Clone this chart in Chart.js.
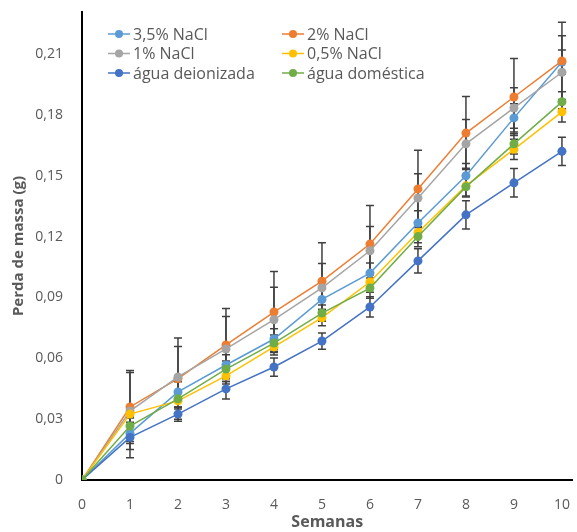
<!DOCTYPE html>
<html>
<head>
<meta charset="utf-8">
<script src="https://cdn.jsdelivr.net/npm/chart.js@4.4.1/dist/chart.umd.min.js"></script>
<style>
    body { margin: 0; background: #fff; }
    #wrap { width: 577px; height: 532px; }
</style>
</head>
<body>
<div id="wrap"><canvas id="chart_massa"></canvas></div>
<script>
// Semanas (eixo x)
const semanas = [0, 1, 2, 3, 4, 5, 6, 7, 8, 9, 10]
// Marcas do eixo y
const ticks_y = [0, 0.03, 0.06, 0.09, 0.12, 0.15, 0.18, 0.21]

// Perda de massa (g) por meio
const nacl_35 = [0, 0.023, 0.0434, 0.0567, 0.0695, 0.089, 0.102, 0.1267, 0.150, 0.1785, 0.206]
const nacl_2 = [0, 0.036, 0.050, 0.0666, 0.0828, 0.098, 0.1163, 0.1435, 0.171, 0.1888, 0.2066]
const nacl_1 = [0, 0.034, 0.0508, 0.0646, 0.079, 0.0947, 0.113, 0.139, 0.1657, 0.1834, 0.201]
const nacl_05 = [0, 0.0325, 0.039, 0.0513, 0.0656, 0.080, 0.0976, 0.122, 0.145, 0.163, 0.1815]
const agua_deionizada = [0, 0.021, 0.0325, 0.0449, 0.0557, 0.0685, 0.0853, 0.108, 0.1307, 0.1465, 0.162]
const agua_domestica = [0, 0.0266, 0.040, 0.0547, 0.0675, 0.0823, 0.0946, 0.120, 0.1445, 0.1657, 0.1864]

// Desvio (barras de erro)
const err_nacl_35 = [0, 0.004, 0.005, 0.005, 0.005, 0.005, 0.005, 0.006, 0.006, 0.007, 0.006]
const err_nacl_2 = [0, 0.018, 0.020, 0.018, 0.020, 0.019, 0.019, 0.019, 0.018, 0.019, 0.019]
const err_nacl_1 = [0, 0.019, 0.015, 0.016, 0.016, 0.012, 0.012, 0.012, 0.012, 0.010, 0.018]
const err_nacl_05 = [0, 0.004, 0.004, 0.004, 0.004, 0.004, 0.005, 0.005, 0.005, 0.005, 0.005]
const err_agua_deionizada = [0, 0.010, 0.0035, 0.005, 0.0045, 0.004, 0.005, 0.006, 0.007, 0.007, 0.007]
const err_agua_domestica = [0, 0.004, 0.004, 0.004, 0.004, 0.004, 0.005, 0.005, 0.005, 0.005, 0.005]

const nomes = ['3,5% NaCl', '2% NaCl', '1% NaCl', '0,5% NaCl', 'água deionizada', 'água doméstica']
const cores = ['#5B9BD5', '#ED7D31', '#A5A5A5', '#FFC000', '#4472C4', '#70AD47']

const series = [nacl_35, nacl_2, nacl_1, nacl_05, agua_deionizada, agua_domestica]
const erros = [err_nacl_35, err_nacl_2, err_nacl_1, err_nacl_05, err_agua_deionizada, err_agua_domestica]

const texto = '#595959'
const fonte = '"Open Sans", "DejaVu Sans", sans-serif'

const data_massa = {
    datasets: series.map((vals, i) => ({
        label: nomes[i],
        data: semanas.map((s, j) => ({ x: s, y: vals[j] })),
        erro: erros[i],
        borderColor: cores[i],
        backgroundColor: cores[i],
        borderWidth: 1.5,
        pointRadius: 4.5,
        pointBorderWidth: 0,
        tension: 0,
        order: series.length - i
    }))
}

// barras de erro, desenhadas atrás dos marcadores
const errorBars = {
    id: 'errorBars',
    beforeDatasetsDraw(chart) {
        const ctx = chart.ctx
        const y = chart.scales.y
        ctx.save()
        ctx.strokeStyle = '#404040'
        ctx.lineWidth = 1.5
        chart.data.datasets.forEach((ds, i) => {
            const meta = chart.getDatasetMeta(i)
            meta.data.forEach((pt, j) => {
                const e = ds.erro[j]
                if (!e) return
                const v = ds.data[j].y
                const top = y.getPixelForValue(v + e)
                const bot = y.getPixelForValue(v - e)
                ctx.beginPath()
                ctx.moveTo(pt.x, top)
                ctx.lineTo(pt.x, bot)
                ctx.moveTo(pt.x - 4, top)
                ctx.lineTo(pt.x + 4, top)
                ctx.moveTo(pt.x - 4, bot)
                ctx.lineTo(pt.x + 4, bot)
                ctx.stroke()
            })
        })
        ctx.restore()
    }
}

// legenda em duas colunas dentro da área do gráfico
const legendaInterna = {
    id: 'legendaInterna',
    afterDraw(chart) {
        const ctx = chart.ctx
        const area = chart.chartArea
        const cols = [area.left + 26, area.left + 200]
        const rows = [area.top + 22, area.top + 41.5, area.top + 61]
        ctx.save()
        ctx.font = '16px ' + fonte
        ctx.textBaseline = 'middle'
        chart.data.datasets.forEach((ds, i) => {
            const cx = cols[i % 2]
            const cy = rows[Math.floor(i / 2)]
            ctx.strokeStyle = ds.borderColor
            ctx.lineWidth = 1.5
            ctx.beginPath()
            ctx.moveTo(cx, cy)
            ctx.lineTo(cx + 22, cy)
            ctx.stroke()
            ctx.fillStyle = ds.borderColor
            ctx.beginPath()
            ctx.arc(cx + 11, cy, 4, 0, Math.PI * 2)
            ctx.fill()
            ctx.fillStyle = texto
            ctx.fillText(ds.label, cx + 25, cy + 1)
        })
        ctx.restore()
    }
}

const virgula = v => v === 0 ? '0' : String(+v.toFixed(2)).replace('.', ',')

new Chart(document.getElementById('chart_massa'), {
    type: 'line',
    data: data_massa,
    plugins: [errorBars, legendaInterna],
    options: {
        responsive: true,
        maintainAspectRatio: false,
        animation: false,
        layout: {
            padding: { top: 12, right: 0, left: 0, bottom: 0 }
        },
        plugins: {
            legend: { display: false },
            tooltip: { enabled: false }
        },
        scales: {
            x: {
                type: 'linear',
                min: 0,
                max: 10.22,
                afterBuildTicks: axis => { axis.ticks = semanas.map(v => ({ value: v })) },
                afterFit: axis => {
                    axis.height = 52
                    axis.paddingLeft = 0
                    axis.paddingRight = 0
                },
                ticks: {
                    color: texto,
                    padding: 17,
                    maxRotation: 0,
                    autoSkip: false,
                    font: { family: fonte, size: 14 }
                },
                grid: { display: true, drawOnChartArea: false, drawTicks: false },
                border: { display: true, color: '#000000', width: 2 },
                title: {
                    display: true,
                    text: 'Semanas',
                    color: texto,
                    padding: { top: 0, bottom: 0 },
                    font: { family: fonte, size: 16, weight: 'bold' }
                }
            },
            y: {
                min: 0,
                max: 0.2307,
                afterBuildTicks: axis => { axis.ticks = ticks_y.map(v => ({ value: v })) },
                afterFit: axis => {
                    axis.width = 82
                    axis.paddingTop = 0
                    axis.paddingBottom = 0
                },
                ticks: {
                    color: texto,
                    padding: 19,
                    font: { family: fonte, size: 14 },
                    callback: v => virgula(v)
                },
                grid: { display: true, drawOnChartArea: false, drawTicks: false },
                border: { display: true, color: '#000000', width: 2 },
                title: {
                    display: true,
                    text: 'Perda de massa (g)',
                    color: texto,
                    padding: { top: 10, bottom: 0 },
                    font: { family: fonte, size: 15, weight: 'bold' }
                }
            }
        }
    }
});
</script>
</body>
</html>
